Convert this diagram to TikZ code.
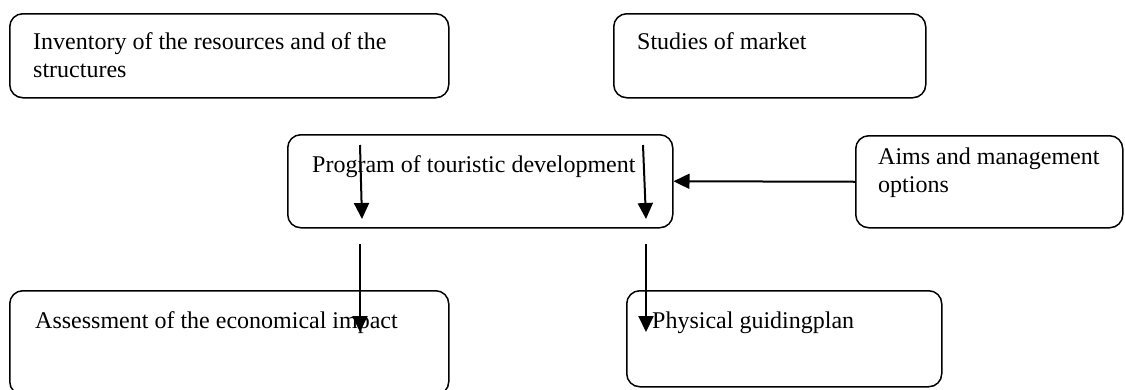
\documentclass[tikz,border=0pt]{standalone}
\usepackage{fontspec}
\setmainfont{Liberation Serif}
\usetikzlibrary{arrows.meta, positioning}

\begin{document}
\begin{tikzpicture}[
  x=1pt, y=-1pt,
  font=\fontsize{24}{28}\selectfont,
  box/.style={draw, line width=1.5pt, rounded corners=13pt,
              anchor=north west, inner sep=0pt},
  txt/.style={anchor=base west, align=left, inner sep=0pt},
  arr/.style={-{Triangle[length=16pt,width=15pt]}, line width=2pt}
]
  \useasboundingbox (0,0) rectangle (1125,389);
  % boxes
  \node[box, minimum width=439pt, minimum height=84pt] (inv) at (9,13) {};
  \node[box, minimum width=312pt, minimum height=84pt] (mkt) at (613,13) {};
  \node[box, minimum width=385pt, minimum height=93pt] (prog) at (287,134) {};
  \node[box, minimum width=267pt, minimum height=92pt] (aims) at (855,135) {};
  \node[box, minimum width=439pt, minimum height=104pt] (econ) at (9,290) {};
  \node[box, minimum width=315pt, minimum height=96pt] (plan) at (626,290) {};
  % texts (base = last line)
  \node[txt] (inv-t) at ([shift={(24,64)}]inv.north west)
    {Inventory of the resources and of the\\structures};
  \node[txt] (mkt-t) at ([shift={(24,36)}]mkt.north west) {Studies of market};
  \node[txt] (prog-t) at ([shift={(25,38)}]prog.north west)
    {Program of touristic development};
  \node[txt] (aims-t) at ([shift={(23,57)}]aims.north west)
    {Aims and management\\options};
  \node[txt] (econ-t) at ([shift={(26,38)}]econ.north west)
    {Assessment of the economical impact};
  \node[txt] (plan-t) at ([shift={(26,38)}]plan.north west)
    {Physical guidingplan};
  % arrows
  \coordinate (p1) at (360,145);
  \coordinate (p1e) at (362,219);
  \coordinate (p2) at (643,145);
  \coordinate (p2e) at (646,219);
  \coordinate (q1) at (360,244);
  \coordinate (q1e) at (360,332);
  \coordinate (q2) at (646,244);
  \coordinate (q2e) at (646,332);
  \foreach \a/\b in {p1/p1e,p2/p2e,q1/q1e,q2/q2e}
    \draw[arr] (\a)--(\b);
  \draw[arr] (aims.west)--(prog.east);
\end{tikzpicture}
\end{document}
